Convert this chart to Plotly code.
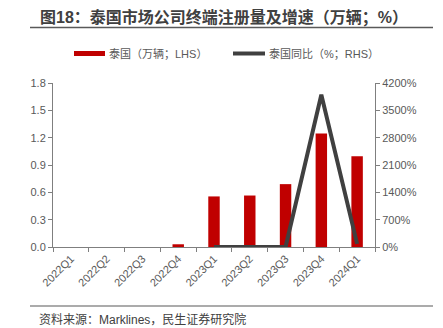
import plotly.graph_objects as go

categories = ["2022Q1", "2022Q2", "2022Q3", "2022Q4", "2023Q1", "2023Q2", "2023Q3", "2023Q4", "2024Q1"]
volume = [0.0, 0.0, 0.0, 0.03, 0.555, 0.565, 0.69, 1.247, 0.997]
yoy_categories = ["2023Q1", "2023Q2", "2023Q3", "2023Q4", "2024Q1"]
yoy = [0, 0, 0, 3900, 80]

left_ticks = [0, 0.3, 0.6, 0.9, 1.2, 1.5, 1.8]
right_ticks = [0, 700, 1400, 2100, 2800, 3500, 4200]
right_labels = [f"{v}%" for v in right_ticks]

FONT = "Liberation Sans, Arial, Noto Sans CJK SC, sans-serif"
GRAY = "#595959"
AXIS = "#7f7f7f"

W, H = 443, 328
ML, MR, MT, MB = 53, 68, 83, 81
PW = W - ML - MR
PH = H - MT - MB

def px(x):
    return (x - ML) / PW

def py(y):
    return (H - MB - y) / PH

fig = go.Figure()
fig.add_trace(go.Bar(
    x=categories, y=volume, name="泰国（万辆；LHS）",
    marker=dict(color="#C00000", line=dict(width=0)),
    width=0.32, yaxis="y", showlegend=False,
))
fig.add_trace(go.Scatter(
    x=yoy_categories, y=yoy, name="泰国同比（%；RHS）", mode="lines",
    line=dict(color="#404040", width=4), yaxis="y2", showlegend=False,
))

fig.update_layout(
    width=W, height=H,
    margin=dict(l=ML, r=MR, t=MT, b=MB),
    paper_bgcolor="white", plot_bgcolor="white",
    font=dict(family=FONT, size=11, color=GRAY),
    xaxis=dict(
        type="category", categoryorder="array", categoryarray=categories,
        showline=True, linecolor=AXIS, linewidth=1,
        ticks="outside", tickson="boundaries", ticklen=4, tickcolor=AXIS,
        tickangle=-45, tickfont=dict(size=11, color=GRAY),
        showgrid=False, zeroline=False, range=[-0.5, 8.5],
    ),
    yaxis=dict(
        range=[0, 1.8], tickvals=left_ticks, tickformat=".1f",
        showline=True, linecolor=AXIS, linewidth=1,
        ticks="outside", ticklen=4, tickcolor=AXIS,
        showgrid=False, zeroline=False, tickfont=dict(size=11, color=GRAY),
    ),
    yaxis2=dict(
        range=[0, 4200], tickmode="array", tickvals=right_ticks, ticktext=right_labels,
        overlaying="y", side="right",
        showline=True, linecolor=AXIS, linewidth=1,
        ticks="outside", ticklen=4, tickcolor=AXIS,
        showgrid=False, zeroline=False, tickfont=dict(size=11, color=GRAY),
    ),
)

shapes = [
    dict(type="line", xref="paper", yref="paper", x0=px(30), x1=px(433), y0=py(27.5), y1=py(27.5),
         line=dict(color="#595959", width=1.5)),
    dict(type="line", xref="paper", yref="paper", x0=px(30), x1=px(433), y0=py(306), y1=py(306),
         line=dict(color="#595959", width=1.2)),
    dict(type="rect", xref="paper", yref="paper", x0=px(74), x1=px(105), y0=py(56), y1=py(51),
         fillcolor="#C00000", line=dict(width=0)),
    dict(type="line", xref="paper", yref="paper", x0=px(233), x1=px(265), y0=py(53.5), y1=py(53.5),
         line=dict(color="#404040", width=4)),
]
fig.update_layout(shapes=shapes)

annotations = [
    dict(text="<b>图18：泰国市场公司终端注册量及增速（万辆；%）</b>", xref="paper", yref="paper",
         x=px(38), y=py(17), xanchor="left", yanchor="middle", showarrow=False,
         font=dict(family=FONT, size=16, color="#404040")),
    dict(text="泰国（万辆；LHS）", xref="paper", yref="paper",
         x=px(107), y=py(53.5), xanchor="left", yanchor="middle", showarrow=False,
         font=dict(family=FONT, size=11, color=GRAY)),
    dict(text="泰国同比（%；RHS）", xref="paper", yref="paper",
         x=px(267), y=py(53.5), xanchor="left", yanchor="middle", showarrow=False,
         font=dict(family=FONT, size=11, color=GRAY)),
    dict(text="资料来源：Marklines，民生证券研究院", xref="paper", yref="paper",
         x=px(37), y=py(319), xanchor="left", yanchor="middle", showarrow=False,
         font=dict(family=FONT, size=12, color="#404040")),
]
fig.update_layout(annotations=annotations)

fig.write_html("out.html")
